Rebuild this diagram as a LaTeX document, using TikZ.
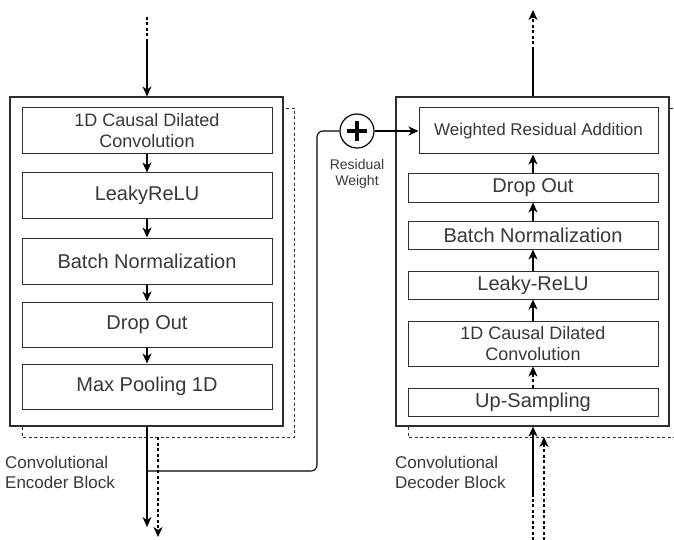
\documentclass[tikz,border=0pt]{standalone}
\usepackage{fontspec}
\setmainfont{Liberation Sans}
\usetikzlibrary{arrows.meta}
\definecolor{ink}{HTML}{2E2E2E}
\definecolor{txt}{HTML}{383838}

\tikzset{
  layer/.style={draw=ink, line width=1pt, fill=white, inner sep=0pt,
    text=txt, align=center, font=\fontsize{20}{24}\selectfont},
  twoline/.style={font=\fontsize{18}{21}\selectfont},
  blockframe/.style={draw=ink, line width=1.1pt, fill=white, inner sep=0pt},
  shadowframe/.style={draw=ink, line width=0.9pt, dashed, dash pattern=on 3pt off 2.5pt},
  flow/.style={draw=black, line width=1.1pt, -{Stealth[length=10pt,width=9pt,inset=3pt]}},
  dflow/.style={flow, dash pattern=on 3pt off 2.5pt},
  wire/.style={draw=black, line width=1.1pt},
  dwire/.style={wire, dash pattern=on 3pt off 2.5pt},
  caption/.style={text=txt, align=left, inner sep=0pt, anchor=west,
    font=\fontsize{17}{20}\selectfont},
}

\begin{document}
\begin{tikzpicture}[x=1pt,y=-1pt]
\useasboundingbox (0,0) rectangle (674,540);

% ---------- encoder block ----------
\draw[shadowframe] (22,108) rectangle (294,437);
\node[blockframe, minimum width=273pt, minimum height=329pt] (enc) at (146.5,261.5) {};

\node[layer, twoline, minimum width=250pt, minimum height=46pt] (e1) at (147,131)
  {1D Causal Dilated\\Convolution};
\node[layer, minimum width=250pt, minimum height=45pt] (e2) at (147,195.5) {LeakyReLU};
\node[layer, minimum width=250pt, minimum height=46pt] (e3) at (147,261) {Batch Normalization};
\node[layer, minimum width=250pt, minimum height=45pt] (e4) at (147,324.5) {Drop Out};
\node[layer, minimum width=250pt, minimum height=45pt] (e5) at (147,386.5) {Max Pooling 1D};

\draw[flow] (e1.south) -- (e2.north);
\draw[flow] (e2.south) -- (e3.north);
\draw[flow] (e3.south) -- (e4.north);
\draw[flow] (e4.south) -- (e5.north);

% encoder input
\coordinate (ein0) at (147,17);
\coordinate (ein1) at (147,40);
\draw[dwire] (ein0) -- (ein1);
\draw[flow] (ein1) -- (ein1 |- enc.north);

% encoder outputs
\coordinate (eout) at (147,527);
\coordinate (eskip) at (158,537);
\coordinate (etap) at (147,471);
\draw[flow] (eout |- enc.south) -- (eout);
\draw[dflow] (158,437) -- (eskip);

\node[caption] (enclab) at (5,472) {Convolutional\\Encoder Block};

% ---------- residual path ----------
\node[circle, draw=black, line width=1.2pt, fill=white, minimum size=34pt, inner sep=0pt] (sum) at (357,131) {};
\draw[black, line width=3.5pt] ([xshift=-10pt]sum.center) -- ([xshift=10pt]sum.center);
\draw[black, line width=3.5pt] ([yshift=-10pt]sum.center) -- ([yshift=10pt]sum.center);
\node[text=txt, align=center, inner sep=0pt, font=\fontsize{14}{16}\selectfont] (rw) at (357,174)
  {Residual\\Weight};

\draw[wire, rounded corners=6pt] (etap) -- (317,471) -- (317,131) -- (sum.west);

% ---------- decoder block ----------
\draw[shadowframe] (408,108) rectangle (690,437);
\node[blockframe, minimum width=273pt, minimum height=329pt] (dec) at (532.5,261.5) {};

\node[layer, font=\fontsize{17}{20}\selectfont, minimum width=239pt, minimum height=46pt] (d6) at (538.5,131)
  {Weighted Residual Addition};
\node[layer, minimum width=250pt, minimum height=28pt] (d5) at (533,188) {Drop Out};
\node[layer, minimum width=250pt, minimum height=28pt] (d4) at (533,235) {Batch Normalization};
\node[layer, minimum width=250pt, minimum height=28pt] (d3) at (533,285) {Leaky-ReLU};
\node[layer, twoline, minimum width=250pt, minimum height=45pt] (d2) at (533,343.5)
  {1D Causal Dilated\\Convolution};
\node[layer, minimum width=250pt, minimum height=28pt] (d1) at (533,402) {Up-Sampling};

\draw[dflow] (d1.north) -- (d2.south);
\draw[flow] (d2.north) -- (d3.south);
\draw[flow] (d3.north) -- (d4.south);
\draw[flow] (d4.north) -- (d5.south);
\draw[flow] (d5.north) -- (d5.north |- d6.south);

\draw[flow] (sum.east) -- (d6.west);

% decoder output
\coordinate (dout0) at (533,50);
\coordinate (dout1) at (533,10);
\draw[wire] (dout0 |- dec.north) -- (dout0);
\draw[dflow] (dout0) -- (dout1);

% decoder inputs
\coordinate (din0) at (533,540);
\coordinate (din1) at (533,497);
\coordinate (dskip) at (544,540);
\draw[dwire] (din0) -- (din1);
\draw[flow] (din1) -- (din1 |- dec.south);
\draw[dflow] (dskip) -- (544,437);

\node[caption] (declab) at (395,472) {Convolutional\\Decoder Block};
\end{tikzpicture}
\end{document}
